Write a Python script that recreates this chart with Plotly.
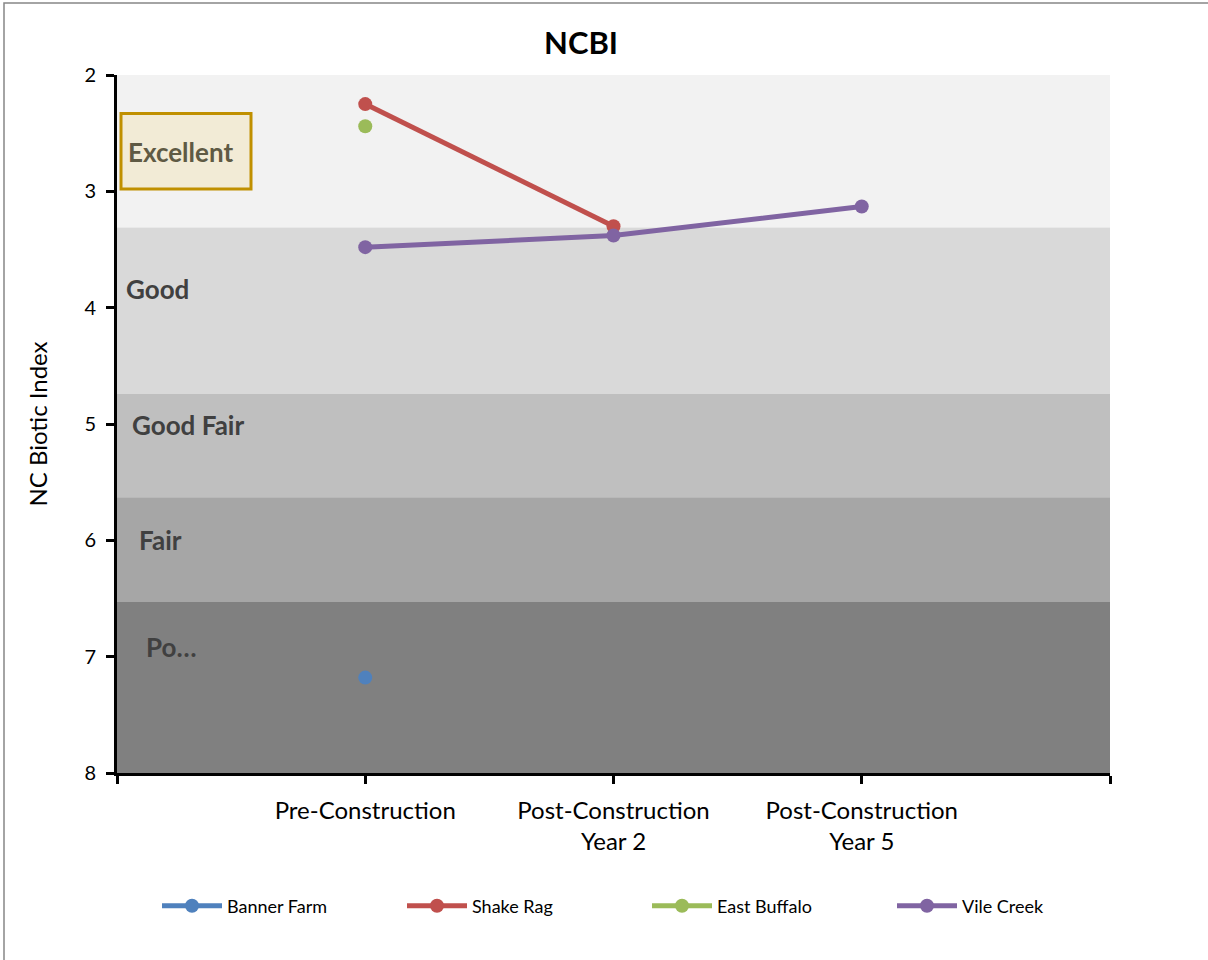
import plotly.graph_objects as go

# Sampling periods and NCBI scores per site
periods = ["Pre-Construction", "Post-Construction<br>Year 2", "Post-Construction<br>Year 5"]
period_pos = [1, 2, 3]

banner_farm = [7.18]
shake_rag = [2.25, 3.30]
east_buffalo = [2.44]
vile_creek = [3.48, 3.38, 3.13]

# Bioclassification bands (lower bound, upper bound)
band_names = ["Excellent", "Good", "Good Fair", "Fair", "Po…"]
band_edges = [2.0, 3.31, 4.74, 5.63, 6.53, 8.0]
band_colors = ["#f2f2f2", "#d9d9d9", "#bfbfbf", "#a6a6a6", "#808080"]

W, H = 1208, 960
ML, MR, MT, MB = 117, 98, 75, 187
PW, PH = W - ML - MR, H - MT - MB

FONT = "Lato, 'Open Sans', sans-serif"


def px_x(px):
    return (px - ML) / PW


def px_y(py):
    return (H - MB - py) / PH


fig = go.Figure()

series = [
    ("Banner Farm", banner_farm, "#4f81bd"),
    ("Shake Rag", shake_rag, "#c0504d"),
    ("East Buffalo", east_buffalo, "#9bbb59"),
    ("Vile Creek", vile_creek, "#8064a2"),
]
for name, vals, col in series:
    fig.add_trace(go.Scatter(
        x=period_pos[:len(vals)], y=vals, name=name,
        mode="lines+markers",
        line=dict(color=col, width=5),
        marker=dict(color=col, size=14),
    ))

shapes = []
for i, c in enumerate(band_colors):
    shapes.append(dict(type="rect", xref="paper", yref="y", x0=0, x1=1,
                       y0=band_edges[i], y1=band_edges[i + 1],
                       fillcolor=c, line=dict(width=0), layer="below"))

# Highlight box behind the top band label
shapes.append(dict(type="rect", xref="paper", yref="y",
                   x0=px_x(121), x1=px_x(251), y0=2.33, y1=2.98,
                   fillcolor="#f2ebd6", line=dict(color="#c09000", width=3),
                   layer="below"))

# Chart border
shapes.append(dict(type="rect", xref="paper", yref="paper",
                   x0=px_x(4), x1=px_x(1215), y0=px_y(3), y1=px_y(970),
                   fillcolor="rgba(0,0,0,0)", line=dict(color="#868686", width=1.5)))

label_pos = [(126, 2.66, "#5f5a44"), (124, 3.84, "#404040"), (130, 5.01, "#404040"),
             (137, 6.0, "#404040"), (144, 6.92, "#404040")]
annotations = []
for name, (lx, ly, lc) in zip(band_names, label_pos):
    annotations.append(dict(xref="paper", yref="y", x=px_x(lx), y=ly,
                            text="<b>" + name + "</b>", showarrow=False,
                            xanchor="left", yanchor="middle",
                            font=dict(family=FONT, size=26, color=lc)))

fig.update_layout(
    width=W, height=H,
    margin=dict(l=ML, r=MR, t=MT, b=MB),
    paper_bgcolor="white", plot_bgcolor="white",
    font=dict(family=FONT, color="black"),
    title=dict(text="<b>NCBI</b>", x=px_x(581), xref="paper", xanchor="center",
               y=1 - 43 / H, yanchor="middle",
               font=dict(family=FONT, size=31, color="black")),
    shapes=shapes,
    annotations=annotations,
    showlegend=True,
    legend=dict(orientation="h", x=px_x(157), y=px_y(906), xanchor="left",
                yanchor="middle", font=dict(family=FONT, size=18, color="black"),
                entrywidth=170, entrywidthmode="pixels", itemwidth=60,
                bgcolor="rgba(0,0,0,0)"),
)

fig.update_xaxes(
    range=[0, 4], tickmode="array", tickvals=[0, 1, 2, 3, 4],
    ticktext=[""] + periods + [""],
    showgrid=False, zeroline=False,
    showline=True, linecolor="black", linewidth=3,
    ticks="outside", ticklen=8, tickwidth=3, tickcolor="black",
    tickfont=dict(family=FONT, size=24, color="black"),
    ticklabelstandoff=6,
)
fig.update_yaxes(
    range=[8, 2], tickmode="array", tickvals=[2, 3, 4, 5, 6, 7, 8],
    showgrid=False, zeroline=False,
    showline=True, linecolor="black", linewidth=3,
    ticks="outside", ticklen=8, tickwidth=3, tickcolor="black",
    tickfont=dict(family=FONT, size=20, color="black"),
    ticklabelstandoff=6,
    title=dict(text="NC Biotic Index", standoff=30,
               font=dict(family=FONT, size=24, color="black")),
)

fig.write_html("out.html")
